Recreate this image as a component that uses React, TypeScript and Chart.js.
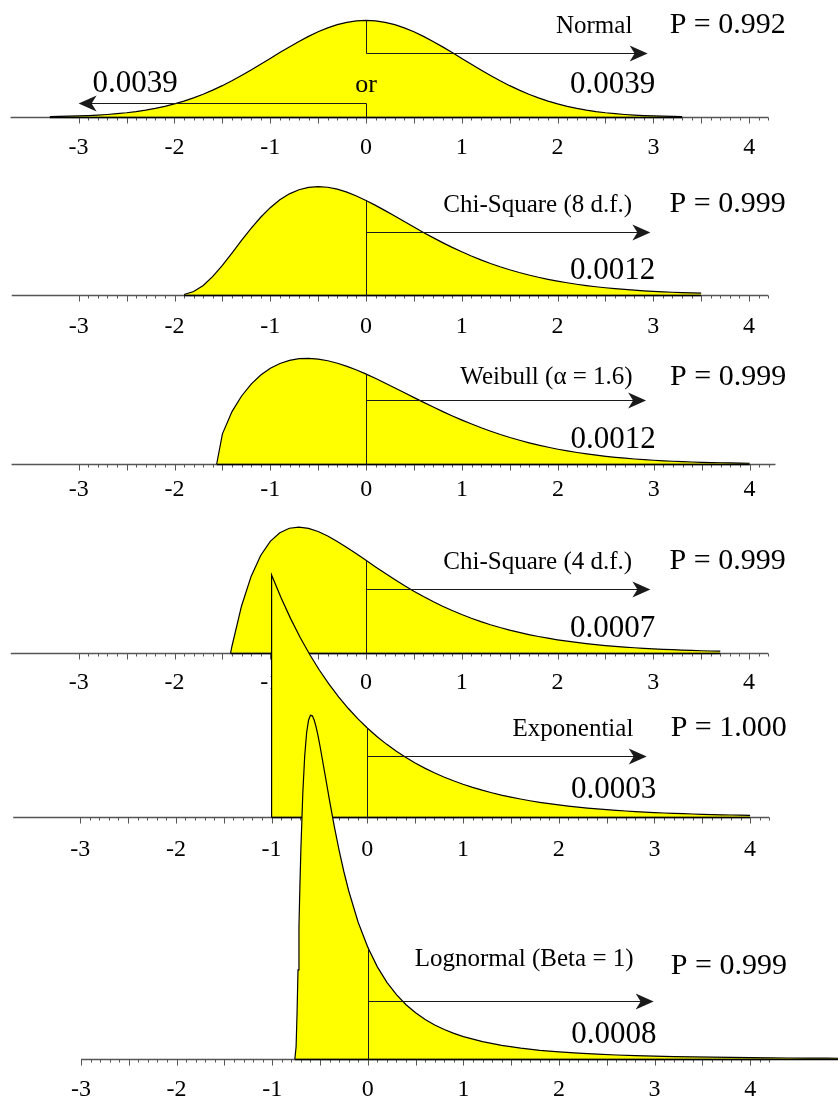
import React, { useEffect, useRef } from "react";
import { Chart, registerables } from "chart.js";

Chart.register(...registerables);

// ---- Tick labels (standardised units) ----
const tickLabels = [-3, -2, -1, 0, 1, 2, 3, 4];

// ---- Panel captions ----
const distNames = [
  "Normal",
  "Chi-Square (8 d.f.)",
  "Weibull (\u03b1 = 1.6)",
  "Chi-Square (4 d.f.)",
  "Exponential",
  "Lognormal (Beta = 1)",
];
const pValues = ["P = 0.992", "P = 0.999", "P = 0.999", "P = 0.999", "P = 1.000", "P = 0.999"];
const upperTail = ["0.0039", "0.0012", "0.0012", "0.0007", "0.0003", "0.0008"];
const lowerTail = "0.0039";
const orLabel = "or";

// ---- Standardised density curves ----
const normalX = [
  -3.3, -3.2, -3.1, -3.0, -2.9, -2.8, -2.7, -2.6, -2.5, -2.4, -2.3, -2.2, -2.1, -2.0, -1.9, -1.8, -1.7,
  -1.6, -1.5, -1.4, -1.3, -1.2, -1.1, -1.0, -0.9, -0.8, -0.7, -0.6, -0.5, -0.4, -0.3, -0.2, -0.1, 0,
  0.1, 0.2, 0.3, 0.4, 0.5, 0.6, 0.7, 0.8, 0.9, 1.0, 1.1, 1.2, 1.3, 1.4, 1.5, 1.6, 1.7, 1.8, 1.9, 2.0,
  2.1, 2.2, 2.3, 2.4, 2.5, 2.6, 2.7, 2.8, 2.9, 3.0, 3.1, 3.2, 3.3,
];
const normalY = [
  0.0017, 0.0024, 0.0033, 0.0044, 0.006, 0.0079, 0.0104, 0.0136, 0.0175, 0.0224, 0.0283, 0.0355, 0.044,
  0.054, 0.0656, 0.079, 0.094, 0.1109, 0.1295, 0.1497, 0.1714, 0.1942, 0.2179, 0.242, 0.2661, 0.2897,
  0.3123, 0.3332, 0.3521, 0.3683, 0.3814, 0.391, 0.397, 0.3989, 0.397, 0.391, 0.3814, 0.3683, 0.3521,
  0.3332, 0.3123, 0.2897, 0.2661, 0.242, 0.2179, 0.1942, 0.1714, 0.1497, 0.1295, 0.1109, 0.094, 0.079,
  0.0656, 0.054, 0.044, 0.0355, 0.0283, 0.0224, 0.0175, 0.0136, 0.0104, 0.0079, 0.006, 0.0044, 0.0033,
  0.0024, 0.0017,
];

const chi8X = [
  -1.9, -1.8, -1.7, -1.6, -1.5, -1.4, -1.3, -1.2, -1.1, -1.0, -0.9, -0.8, -0.7, -0.6, -0.5, -0.4, -0.3,
  -0.2, -0.1, 0, 0.1, 0.2, 0.3, 0.4, 0.5, 0.6, 0.7, 0.8, 0.9, 1.0, 1.1, 1.2, 1.3, 1.4, 1.5, 1.6, 1.7,
  1.8, 1.9, 2.0, 2.1, 2.2, 2.3, 2.4, 2.5, 2.6, 2.7, 2.8, 2.9, 3.0, 3.1, 3.2, 3.3, 3.4, 3.5,
];
const chi8Y = [
  0.0022, 0.0143, 0.0395, 0.0767, 0.1226, 0.1735, 0.2256, 0.2757, 0.3213, 0.3609, 0.3933, 0.418, 0.4351,
  0.445, 0.4481, 0.4452, 0.4372, 0.4249, 0.4092, 0.3907, 0.3703, 0.3486, 0.3261, 0.3034, 0.2807, 0.2586,
  0.2371, 0.2165, 0.1969, 0.1785, 0.1612, 0.1452, 0.1304, 0.1167, 0.1043, 0.0929, 0.0826, 0.0732, 0.0648,
  0.0573, 0.0505, 0.0444, 0.039, 0.0342, 0.03, 0.0262, 0.0229, 0.02, 0.0174, 0.0151, 0.0131, 0.0114,
  0.0099, 0.0086, 0.0074,
];

const weibullX = [
  -1.56, -1.5, -1.4, -1.3, -1.2, -1.1, -1.0, -0.9, -0.8, -0.7, -0.6, -0.5, -0.4, -0.3, -0.2, -0.1, 0,
  0.1, 0.2, 0.3, 0.4, 0.5, 0.6, 0.7, 0.8, 0.9, 1.0, 1.1, 1.2, 1.3, 1.4, 1.5, 1.6, 1.7, 1.8, 1.9, 2.0,
  2.1, 2.2, 2.3, 2.4, 2.5, 2.6, 2.7, 2.8, 2.9, 3.0, 3.1, 3.2, 3.3, 3.4, 3.5, 3.6, 3.7, 3.8, 3.9, 4.0,
];
const weibullY = [
  0, 0.1247, 0.2166, 0.2811, 0.3301, 0.3675, 0.3954, 0.4153, 0.4282, 0.4351, 0.4366, 0.4336, 0.4266,
  0.4163, 0.4033, 0.3882, 0.3712, 0.353, 0.3338, 0.3141, 0.2941, 0.2742, 0.2545, 0.2352, 0.2165, 0.1985,
  0.1813, 0.1651, 0.1497, 0.1354, 0.1219, 0.1095, 0.0981, 0.0875, 0.0778, 0.0691, 0.0611, 0.0539, 0.0474,
  0.0416, 0.0364, 0.0317, 0.0276, 0.024, 0.0207, 0.0179, 0.0154, 0.0133, 0.0114, 0.0097, 0.0083, 0.0071,
  0.006, 0.0051, 0.0043, 0.0036, 0.0031,
];

const chi4X = [
  -1.414, -1.4, -1.3, -1.2, -1.1, -1.0, -0.9, -0.8, -0.7, -0.6, -0.5, -0.4, -0.3, -0.2, -0.1, 0, 0.1,
  0.2, 0.3, 0.4, 0.5, 0.6, 0.7, 0.8, 0.9, 1.0, 1.1, 1.2, 1.3, 1.4, 1.5, 1.6, 1.7, 1.8, 1.9, 2.0, 2.1,
  2.2, 2.3, 2.4, 2.5, 2.6, 2.7, 2.8, 2.9, 3.0, 3.1, 3.2, 3.3, 3.4, 3.5, 3.6, 3.7,
];
const chi4Y = [
  0, 0.0279, 0.1944, 0.3165, 0.403, 0.4612, 0.497, 0.5154, 0.5202, 0.5149, 0.5019, 0.4833, 0.461, 0.4361,
  0.4098, 0.3828, 0.3558, 0.3293, 0.3036, 0.2789, 0.2555, 0.2334, 0.2127, 0.1934, 0.1754, 0.1589, 0.1436,
  0.1297, 0.1169, 0.1052, 0.0945, 0.0849, 0.0762, 0.0682, 0.0611, 0.0546, 0.0488, 0.0436, 0.0389, 0.0346,
  0.0308, 0.0275, 0.0244, 0.0218, 0.0193, 0.0172, 0.0153, 0.0136, 0.012, 0.0107, 0.0094, 0.0083, 0.0074,
];

const expX = [
  -1, -1, -0.9, -0.8, -0.7, -0.6, -0.5, -0.4, -0.3, -0.2, -0.1, 0, 0.1, 0.2, 0.3, 0.4, 0.5, 0.6, 0.7,
  0.8, 0.9, 1.0, 1.1, 1.2, 1.3, 1.4, 1.5, 1.6, 1.7, 1.8, 1.9, 2.0, 2.1, 2.2, 2.3, 2.4, 2.5, 2.6, 2.7,
  2.8, 2.9, 3.0, 3.1, 3.2, 3.3, 3.4, 3.5, 3.6, 3.7, 3.8, 3.9, 4.0,
];
const expY = [
  0, 1.0, 0.9048, 0.8187, 0.7408, 0.6703, 0.6065, 0.5488, 0.4966, 0.4493, 0.4066, 0.3679, 0.3329, 0.3012,
  0.2725, 0.2466, 0.2231, 0.2019, 0.1827, 0.1653, 0.1496, 0.1353, 0.1225, 0.1108, 0.1003, 0.0907, 0.0821,
  0.0743, 0.0672, 0.0608, 0.055, 0.0498, 0.045, 0.0408, 0.0369, 0.0334, 0.0302, 0.0273, 0.0247, 0.0224,
  0.0202, 0.0183, 0.0166, 0.015, 0.0136, 0.0123, 0.0111, 0.0101, 0.0091, 0.0082, 0.0074, 0.0067,
];

const lognormX = [
  -0.763, -0.75, -0.74, -0.73, -0.72, -0.71, -0.7, -0.68, -0.66, -0.64, -0.62, -0.6, -0.58, -0.56, -0.54,
  -0.52, -0.5, -0.45, -0.4, -0.35, -0.3, -0.25, -0.2, -0.1, 0, 0.1, 0.2, 0.3, 0.4, 0.5, 0.6, 0.7, 0.8,
  0.9, 1.0, 1.2, 1.4, 1.6, 1.8, 2.0, 2.2, 2.4, 2.6, 2.8, 3.0, 3.2, 3.4, 3.6, 3.8, 4.0, 4.2, 4.4, 4.6,
  4.8, 5.0,
];
const lognormY = [
  0, 0.0508, 0.1897, 0.3679, 0.5495, 0.7175, 0.8656, 1.0971, 1.2522, 1.348, 1.3999, 1.4202, 1.4179,
  1.3998, 1.3708, 1.3345, 1.2934, 1.1811, 1.0674, 0.96, 0.8619, 0.7738, 0.6953, 0.5642, 0.4615, 0.3807,
  0.3168, 0.2656, 0.2244, 0.1908, 0.1633, 0.1406, 0.1217, 0.1059, 0.0925, 0.0715, 0.0562, 0.0447, 0.036,
  0.0293, 0.024, 0.0199, 0.0166, 0.0139, 0.0118, 0.01, 0.0086, 0.0074, 0.0064, 0.0055, 0.0048, 0.0042,
  0.0037, 0.0033, 0.0029,
];

const curves = [
  { x: normalX, y: normalY },
  { x: chi8X, y: chi8Y },
  { x: weibullX, y: weibullY },
  { x: chi4X, y: chi4Y },
  { x: expX, y: expY },
  { x: lognormX, y: lognormY },
];

// ---- Page geometry and styling ----
const CANVAS_W = 838;
const CANVAS_H = 1100;
const PX_PER_DENSITY = 242;
const FILL = "#ffff00";
const AXIS_COLOR = "#555555";
const LINE_COLOR = "#1a1a1a";
const SERIF = '"Liberation Serif", "Times New Roman", serif';

// Per-panel placement: axis baseline (px), horizontal origin/scale of the axis,
// axis extent, and caption offsets (px relative to the baseline).
const panels = [
  { base: 117, zero: 366, unit: 95.8, from: -3.71, to: 4.2, tickDy: 36, arrowAt: 0.266, tip: 2.94, nameDy: -85, pDy: -85, tailDy: -25 },
  { base: 295, zero: 366, unit: 95.75, from: -3.7, to: 4.2, tickDy: 37, arrowAt: 0.26, tip: 2.97, nameDy: -84, pDy: -84, tailDy: -17 },
  { base: 464, zero: 366.2, unit: 95.85, from: -3.7, to: 4.27, tickDy: 31, arrowAt: 0.263, tip: 2.92, nameDy: -81, pDy: -80, tailDy: -17 },
  { base: 653, zero: 366, unit: 95.75, from: -3.71, to: 4.2, tickDy: 35, arrowAt: 0.266, tip: 2.97, nameDy: -85, pDy: -85, tailDy: -17 },
  { base: 817, zero: 367.3, unit: 95.7, from: -3.7, to: 4.2, tickDy: 38, arrowAt: 0.251, tip: 2.92, nameDy: -82, pDy: -82, tailDy: -20 },
  { base: 1059, zero: 367.8, unit: 95.6, from: -3.0, to: 4.2, tickDy: 36, arrowAt: 0.24, tip: 2.99, nameDy: -94, pDy: -86, tailDy: -17 },
];
const lowerArrow = { at: 0.056, tip: -3.0, textLeft: -2.854, textDy: -26 };
const nameRight = 2.78;
const pLeft = 3.17;
const tailRight = 3.02;

const crisp = (v: number) => Math.round(v) + 0.5;

function drawArrow(ctx: CanvasRenderingContext2D, xFrom: number, xTip: number, y: number) {
  const dir = xTip > xFrom ? 1 : -1;
  ctx.beginPath();
  ctx.moveTo(xFrom, y);
  ctx.lineTo(xTip - dir * 12, y);
  ctx.stroke();
  ctx.beginPath();
  ctx.moveTo(xTip, y);
  ctx.lineTo(xTip - dir * 18, y - 8);
  ctx.lineTo(xTip - dir * 13, y);
  ctx.lineTo(xTip - dir * 18, y + 8);
  ctx.closePath();
  ctx.fill();
}

function drawAxis(chart: Chart, i: number) {
  const ctx = chart.ctx;
  const p = panels[i];
  const xs = chart.scales["x" + i];
  const ys = chart.scales["y" + i];
  const y0 = crisp(ys.getPixelForValue(0));
  ctx.save();
  ctx.strokeStyle = AXIS_COLOR;
  ctx.lineWidth = 1.5;
  ctx.beginPath();
  ctx.moveTo(xs.getPixelForValue(p.from), y0);
  ctx.lineTo(xs.getPixelForValue(p.to), y0);
  ctx.stroke();
  ctx.lineWidth = 1;
  ctx.beginPath();
  for (let k = -30; k <= 42; k++) {
    const x = crisp(xs.getPixelForValue(k / 10));
    const len = k % 5 === 0 ? 6 : 3;
    ctx.moveTo(x, y0);
    ctx.lineTo(x, y0 + len);
  }
  ctx.stroke();
  ctx.fillStyle = "#000";
  ctx.font = "24px " + SERIF;
  ctx.textAlign = "center";
  ctx.textBaseline = "alphabetic";
  tickLabels.forEach((v) => {
    ctx.fillText(String(v), xs.getPixelForValue(v), y0 + p.tickDy);
  });
  ctx.restore();
}

function drawPanelMarks(chart: Chart, i: number) {
  const ctx = chart.ctx;
  const p = panels[i];
  const c = curves[i];
  const xs = chart.scales["x" + i];
  const ys = chart.scales["y" + i];
  const base = crisp(ys.getPixelForValue(0));
  ctx.save();
  // curve outline along the baseline
  ctx.strokeStyle = "#000";
  ctx.lineWidth = 1.5;
  ctx.beginPath();
  ctx.moveTo(xs.getPixelForValue(c.x[0]), base);
  ctx.lineTo(Math.min(xs.getPixelForValue(c.x[c.x.length - 1]), CANVAS_W), base);
  ctx.stroke();

  // split line at zero and tail arrows
  const meta = chart.getDatasetMeta(i);
  const zeroIdx = c.x.lastIndexOf(0);
  const topY = (meta.data[zeroIdx] as any).y;
  const x0 = crisp(xs.getPixelForValue(0));
  const arrowY = crisp(ys.getPixelForValue(p.arrowAt));
  ctx.strokeStyle = LINE_COLOR;
  ctx.fillStyle = LINE_COLOR;
  ctx.lineWidth = 1;
  ctx.beginPath();
  if (i === 0) {
    const lowY = crisp(ys.getPixelForValue(lowerArrow.at));
    ctx.moveTo(x0, topY);
    ctx.lineTo(x0, arrowY);
    ctx.moveTo(x0, lowY);
    ctx.lineTo(x0, base);
    ctx.stroke();
    drawArrow(ctx, x0, xs.getPixelForValue(lowerArrow.tip), lowY);
  } else {
    ctx.moveTo(x0, topY);
    ctx.lineTo(x0, base);
    ctx.stroke();
  }
  drawArrow(ctx, x0, xs.getPixelForValue(p.tip), arrowY);

  // captions
  ctx.fillStyle = "#000";
  ctx.textBaseline = "alphabetic";
  ctx.font = "25px " + SERIF;
  ctx.textAlign = "right";
  ctx.fillText(distNames[i], xs.getPixelForValue(nameRight), base + p.nameDy);
  ctx.font = "30px " + SERIF;
  ctx.textAlign = "left";
  ctx.fillText(pValues[i], xs.getPixelForValue(pLeft), base + p.pDy);
  ctx.font = "31px " + SERIF;
  ctx.textAlign = "right";
  ctx.fillText(upperTail[i], xs.getPixelForValue(tailRight), base + p.tailDy);
  if (i === 0) {
    ctx.textAlign = "left";
    ctx.fillText(lowerTail, xs.getPixelForValue(lowerArrow.textLeft), base + lowerArrow.textDy);
    ctx.font = "26px " + SERIF;
    ctx.textAlign = "center";
    ctx.fillText(orLabel, xs.getPixelForValue(0), base + lowerArrow.textDy);
  }
  ctx.restore();
}

const panelPlugin = {
  id: "panelAxes",
  beforeDatasetDraw(chart: Chart, args: any) {
    drawAxis(chart, args.index);
  },
  afterDatasetDraw(chart: Chart, args: any) {
    drawPanelMarks(chart, args.index);
  },
};

export default function App() {
  const canvasRef = useRef<HTMLCanvasElement | null>(null);

  useEffect(() => {
    if (!canvasRef.current) return;
    const scales: any = {};
    panels.forEach((p, i) => {
      scales["x" + i] = {
        type: "linear",
        display: false,
        min: -p.zero / p.unit,
        max: (CANVAS_W - p.zero) / p.unit,
      };
      scales["y" + i] = {
        type: "linear",
        display: false,
        min: -(CANVAS_H - p.base) / PX_PER_DENSITY,
        max: p.base / PX_PER_DENSITY,
      };
    });
    const datasets = curves.map((c, i) => ({
      label: distNames[i],
      data: c.x.map((x, k) => ({ x, y: c.y[k] })),
      xAxisID: "x" + i,
      yAxisID: "y" + i,
      borderColor: "#000",
      borderWidth: 1.2,
      backgroundColor: FILL,
      fill: "origin",
      pointRadius: 0,
      pointHoverRadius: 0,
      tension: 0,
      order: curves.length - 1 - i,
    }));
    const chart = new Chart(canvasRef.current, {
      type: "line",
      data: { datasets },
      options: {
        animation: false,
        responsive: false,
        devicePixelRatio: 1,
        layout: { padding: 0 },
        events: [],
        plugins: { legend: { display: false }, tooltip: { enabled: false }, title: { display: false } },
        scales,
      },
      plugins: [panelPlugin],
    } as any);
    return () => chart.destroy();
  }, []);

  return (
    <div style={{ position: "absolute", left: 0, top: 0, width: CANVAS_W, height: CANVAS_H, background: "#fff" }}>
      <canvas ref={canvasRef} width={CANVAS_W} height={CANVAS_H} />
    </div>
  );
}
